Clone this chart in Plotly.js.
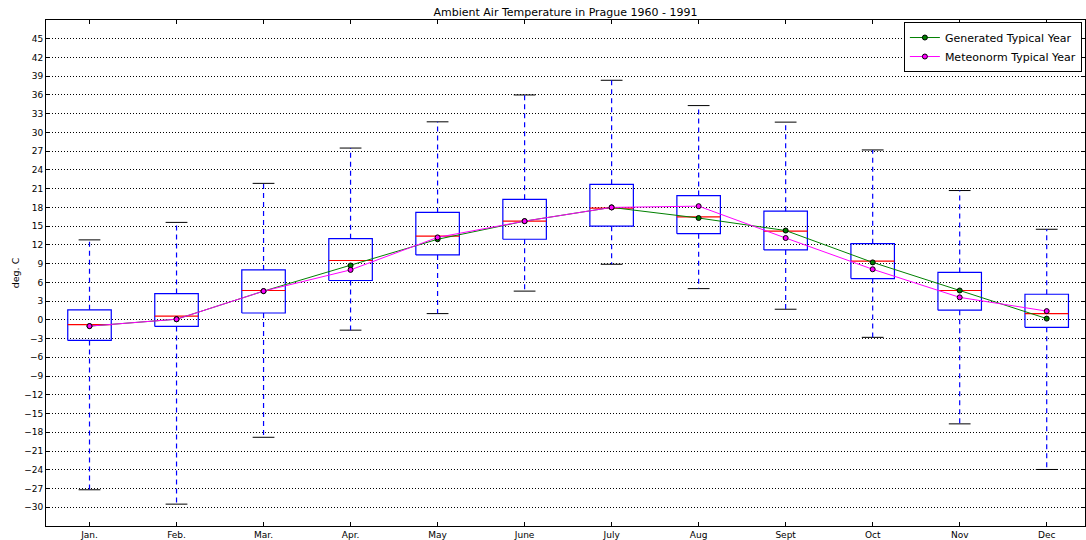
<!DOCTYPE html>
<html>
<head>
<meta charset="utf-8">
<script src="https://cdn.plot.ly/plotly-3.0.1.min.js"></script>
<style>html,body{margin:0;padding:0;background:#fff;}#chart{width:1086px;height:540px;}</style>
</head>
<body>
<div id="chart"></div>
<script>
// Month categories and tick labels
const months = ['Jan.', 'Feb.', 'Mar.', 'Apr.', 'May', 'June', 'July', 'Aug', 'Sept', 'Oct', 'Nov', 'Dec'];
const positions = [1, 2, 3, 4, 5, 6, 7, 8, 9, 10, 11, 12];
const yTicks = [-30, -27, -24, -21, -18, -15, -12, -9, -6, -3, 0, 3, 6, 9, 12, 15, 18, 21, 24, 27, 30, 33, 36, 39, 42, 45];

// Box plot statistics (deg. C)
const whiskerHigh = [12.8, 15.6, 21.85, 27.5, 31.7, 36.0, 38.35, 34.3, 31.65, 27.2, 20.7, 14.5];
const q3 = [1.6, 4.2, 8.0, 13.0, 17.2, 19.3, 21.7, 19.9, 17.4, 12.2, 7.6, 4.1];
const median = [-0.75, 0.6, 4.7, 9.5, 13.4, 15.8, 17.9, 16.5, 14.2, 9.4, 4.7, 1.0];
const q1 = [-3.3, -1.05, 1.1, 6.3, 10.4, 12.9, 15.0, 13.8, 11.2, 6.6, 1.55, -1.2];
const whiskerLow = [-27.2, -29.5, -18.8, -1.65, 1.0, 4.6, 8.9, 5.0, 1.7, -2.8, -16.65, -23.95];

// Typical year series
const generated = [-1.0, 0.1, 4.6, 8.7, 12.9, 15.8, 18.0, 16.3, 14.3, 9.2, 4.7, 0.2];
const meteonorm = [-1.0, 0.1, 4.6, 8.0, 13.2, 15.8, 18.0, 18.2, 13.1, 8.1, 3.6, 1.4];

const BOX_HALF = 0.25, CAP_HALF = 0.125;
const wx = [], wy = [], cx = [], cy = [], bx = [], by = [], mx = [], my = [];
positions.forEach((p, i) => {
  wx.push(p, p, null, p, p, null);
  wy.push(q3[i], whiskerHigh[i], null, q1[i], whiskerLow[i], null);
  cx.push(p - CAP_HALF, p + CAP_HALF, null, p - CAP_HALF, p + CAP_HALF, null);
  cy.push(whiskerHigh[i], whiskerHigh[i], null, whiskerLow[i], whiskerLow[i], null);
  bx.push(p - BOX_HALF, p + BOX_HALF, p + BOX_HALF, p - BOX_HALF, p - BOX_HALF, null);
  by.push(q1[i], q1[i], q3[i], q3[i], q1[i], null);
  mx.push(p - BOX_HALF, p + BOX_HALF, null);
  my.push(median[i], median[i], null);
});

const traces = [
  {x: cx, y: cy, mode: 'lines', line: {color: '#000000', width: 1}, showlegend: false, hoverinfo: 'skip'},
  {x: wx, y: wy, mode: 'lines', line: {color: '#0000ff', width: 1.2, dash: '5px,4px'}, showlegend: false, hoverinfo: 'skip'},
  {x: bx, y: by, mode: 'lines', line: {color: '#0000ff', width: 1.2}, showlegend: false, hoverinfo: 'skip'},
  {x: mx, y: my, mode: 'lines', line: {color: '#ff0000', width: 1.2}, showlegend: false, hoverinfo: 'skip'},
  {x: positions, y: generated, mode: 'lines+markers', name: 'Generated Typical Year',
   line: {color: '#008000', width: 1}, marker: {color: '#008000', size: 5, line: {color: '#000000', width: 1}}},
  {x: positions, y: meteonorm, mode: 'lines+markers', name: 'Meteonorm Typical Year',
   line: {color: '#ff00ff', width: 1}, marker: {color: '#ff00ff', size: 5, line: {color: '#000000', width: 1}}}
];

const font = 'DejaVu Sans, sans-serif';
const layout = {
  width: 1086, height: 540,
  margin: {l: 46, r: 1, t: 20, b: 14},
  paper_bgcolor: '#ffffff', plot_bgcolor: '#ffffff',
  font: {family: font, size: 9, color: '#000000'},
  title: {text: 'Ambient Air Temperature in Prague 1960 - 1991', font: {family: font, size: 11, color: '#000'},
          x: 0.5, xref: 'paper', xanchor: 'center', y: 0.978, yref: 'container', yanchor: 'middle'},
  xaxis: {range: [0.5, 12.44], tickvals: positions, ticktext: months, ticks: 'inside', ticklen: 4,
          tickcolor: '#000', showline: true, linecolor: '#000', linewidth: 1, mirror: 'ticks',
          showgrid: false, zeroline: false, tickfont: {family: font, size: 9}},
  yaxis: {range: [-33, 48], tickvals: yTicks, ticks: 'inside', ticklen: 4, tickcolor: '#000',
          showline: true, linecolor: '#000', linewidth: 1, mirror: 'ticks',
          showgrid: true, gridcolor: '#000000', gridwidth: 1, griddash: '1px,2px', zeroline: false,
          tickfont: {family: font, size: 9},
          title: {text: 'deg. C', font: {family: font, size: 9.5}, standoff: 2}},
  legend: {x: 0.997, xanchor: 'right', y: 0.996, yanchor: 'top', bgcolor: '#ffffff', bordercolor: '#000000',
           borderwidth: 1, font: {family: font, size: 11}, tracegroupgap: 0, itemwidth: 30},
  showlegend: true
};

Plotly.newPlot('chart', traces, layout, {displayModeBar: false, staticPlot: true});
</script>
</body>
</html>
